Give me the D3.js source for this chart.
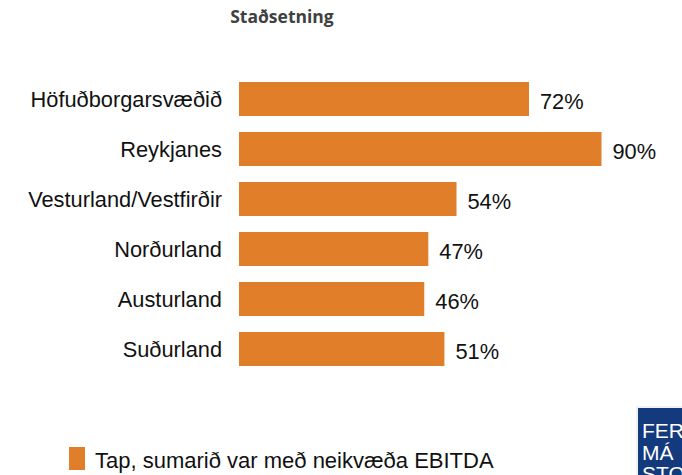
<!DOCTYPE html>
<html>
<head>
<meta charset="utf-8">
<script src="https://cdn.jsdelivr.net/npm/d3@7"></script>
<style>
  body { margin: 0; background: #fff; }
  svg { display: block; }
</style>
</head>
<body>
<figure id="bar" style="margin:0"></figure>
<script>
const categories = ["Höfuðborgarsvæðið", "Reykjanes", "Vesturland/Vestfirðir", "Norðurland", "Austurland", "Suðurland"];
const values = [72, 90, 54, 47, 46, 51];
const seriesName = "Tap, sumarið var með neikvæða EBITDA";
const title = "Staðsetning";

const width = 682, height = 475;
const barColor = "#e07e2a";
const font = "'Liberation Sans', Arial, sans-serif";

const svg = d3.select("figure#bar")
  .append("svg")
  .attr("width", width)
  .attr("height", height);

// x scale: 0..90% spans 239 -> 601
const x = d3.scaleLinear()
  .domain([0, 90])
  .range([239, 601.5]);

const y = d3.scaleBand()
  .domain(categories)
  .range([74, 374])
  .paddingInner(0.32)
  .paddingOuter(0.16);

// title
svg.append("text")
  .attr("x", 282)
  .attr("y", 23)
  .attr("text-anchor", "middle")
  .style("font-family", "'Open Sans', sans-serif")
  .style("font-weight", "bold")
  .style("font-size", "17.5px")
  .attr("fill", "#404040")
  .text(title);

// bars
svg.selectAll("rect.bar")
  .data(values)
  .enter()
  .append("rect")
  .attr("class", "bar")
  .attr("x", x(0))
  .attr("y", (d, i) => y(categories[i]))
  .attr("width", d => x(d) - x(0))
  .attr("height", y.bandwidth())
  .attr("fill", barColor);

// category labels
svg.selectAll("text.cat")
  .data(categories)
  .enter()
  .append("text")
  .attr("class", "cat")
  .attr("x", 222)
  .attr("y", d => y(d) + y.bandwidth() / 2)
  .attr("dy", "0.35em")
  .attr("text-anchor", "end")
  .style("font-family", font)
  .style("font-size", "21.8px")
  .attr("fill", "#111")
  .text(d => d);

// value labels
svg.selectAll("text.val")
  .data(values)
  .enter()
  .append("text")
  .attr("class", "val")
  .attr("x", d => x(d) + 11)
  .attr("y", (d, i) => y(categories[i]) + y.bandwidth() / 2 + 2)
  .attr("dy", "0.35em")
  .style("font-family", font)
  .style("font-size", "21.8px")
  .attr("fill", "#111")
  .text(d => d + "%");

// legend
svg.append("rect")
  .attr("x", 69)
  .attr("y", 447)
  .attr("width", 16)
  .attr("height", 23)
  .attr("fill", barColor);

svg.append("text")
  .attr("x", 95)
  .attr("y", 460)
  .attr("dy", "0.35em")
  .style("font-family", font)
  .style("font-size", "22px")
  .attr("fill", "#111")
  .text(seriesName);

// logo corner (cropped at the picture edge)
const logo = svg.append("g");
logo.append("rect")
  .attr("x", 636)
  .attr("y", 406)
  .attr("width", 50)
  .attr("height", 75)
  .attr("fill", "#f2f2f2");
logo.append("rect")
  .attr("x", 638)
  .attr("y", 408)
  .attr("width", 50)
  .attr("height", 75)
  .attr("fill", "#133a7c");
["FER", "MÁ", "STO"].forEach((t, i) => {
  logo.append("text")
    .attr("x", 642)
    .attr("y", 438 + i * 21.5)
    .style("font-family", font)
    .style("font-size", "21px")
    .attr("fill", "#fff")
    .text(t);
});
</script>
</body>
</html>
